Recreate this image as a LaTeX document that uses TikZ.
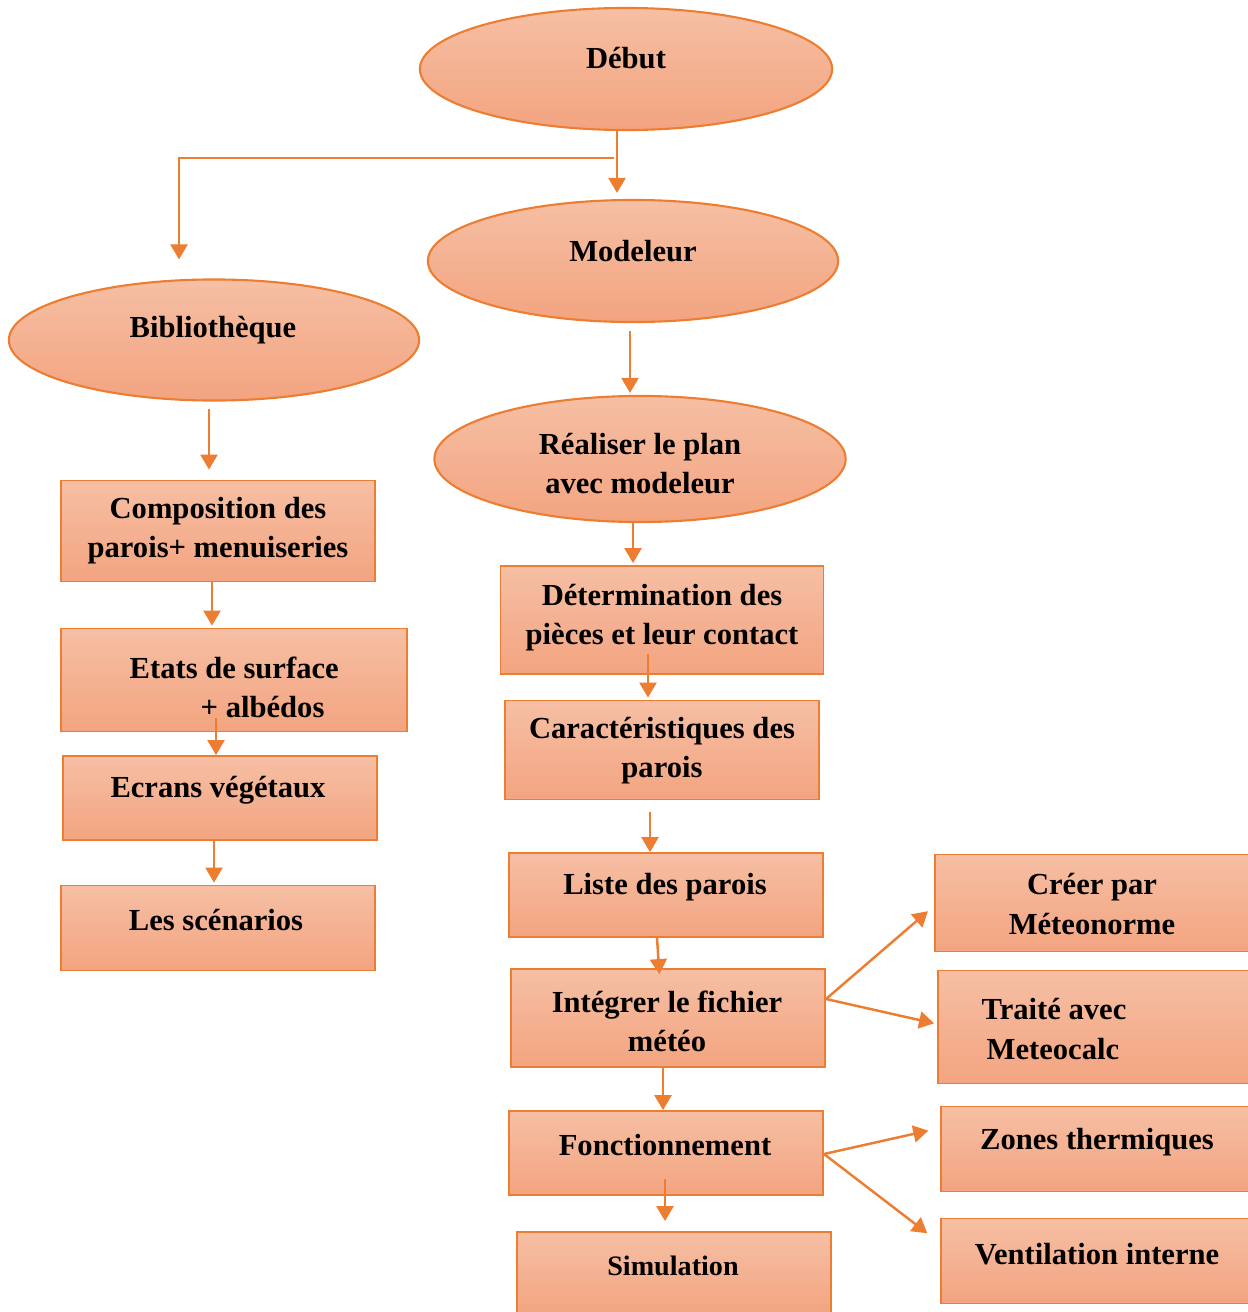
\documentclass[tikz,border=0pt]{standalone}
\usepackage{fontspec}
\setmainfont{Liberation Serif}
\usepackage{xcolor}
\usepackage{tikz}
\usetikzlibrary{shapes.geometric}
\usetikzlibrary{arrows.meta}
\definecolor{OrangeTrait}{HTML}{ED7D31}
\definecolor{OrangeHaut}{HTML}{F6BFA4}
\definecolor{OrangeBas}{HTML}{F3A480}

\tikzset{
  bloc/.style = {rectangle, draw = OrangeTrait, line width = .5pt, top color = OrangeHaut, bottom color = OrangeBas, inner sep = 0pt},
  bulle/.style = {ellipse, draw = OrangeTrait, line width = .6pt, top color = OrangeHaut, bottom color = OrangeBas, inner sep = 0pt},
  texte/.style = {align = center, inner sep = 0pt, font = \bfseries\fontsize{8.7}{11.1}\selectfont},
  fleche/.style = {draw = OrangeTrait, line width = .7pt, -{Triangle[length=1.5mm, width=1.7mm]}}
}

\begin{document}
\begin{tikzpicture}[x = .01cm, y = -.01cm]
  \useasboundingbox (0,0) rectangle (1247,1312);

  % ellipses
  \node[bulle, minimum width = 4.12cm, minimum height = 1.22cm] (debut) at (626,69) {};
  \node[bulle, minimum width = 4.10cm, minimum height = 1.22cm] (modeleur) at (633,261) {};
  \node[bulle, minimum width = 4.10cm, minimum height = 1.21cm] (biblio) at (214,340) {};
  \node[bulle, minimum width = 4.11cm, minimum height = 1.26cm] (realiser) at (640,459) {};

  % left column
  \node[bloc, minimum width = 3.14cm, minimum height = 1.01cm] (compo) at (218,531) {};
  \node[bloc, minimum width = 3.46cm, minimum height = 1.03cm] (etats) at (234,680) {};
  \node[bloc, minimum width = 3.14cm, minimum height = .84cm] (ecrans) at (220,798) {};
  \node[bloc, minimum width = 3.14cm, minimum height = .85cm] (scen) at (218,928) {};

  % middle column
  \node[bloc, minimum width = 3.23cm, minimum height = 1.08cm] (determ) at (662,620) {};
  \node[bloc, minimum width = 3.14cm, minimum height = .99cm] (caract) at (662,750) {};
  \node[bloc, minimum width = 3.14cm, minimum height = .84cm] (liste) at (666,895) {};
  \node[bloc, minimum width = 3.14cm, minimum height = .98cm] (integrer) at (668,1018) {};
  \node[bloc, minimum width = 3.14cm, minimum height = .84cm] (fonct) at (666,1153) {};
  \node[bloc, minimum width = 3.14cm, minimum height = .84cm] (simul) at (674,1274) {};

  % right column
  \node[bloc, minimum width = 3.14cm, minimum height = .97cm] (creer) at (1092,903) {};
  \node[bloc, minimum width = 3.14cm, minimum height = 1.13cm] (traite) at (1095,1027) {};
  \node[bloc, minimum width = 3.14cm, minimum height = .85cm] (zones) at (1098,1149) {};
  \node[bloc, minimum width = 3.14cm, minimum height = .85cm] (ventil) at (1098,1261) {};

  % labels
  \node[texte] (debut-t) at (626,58) {Début};
  \node[texte] (modeleur-t) at (633,251) {Modeleur};
  \node[texte] (biblio-t) at (213,330) {Bibliothèque};
  \node[texte] (realiser-t) at (640,464) {Réaliser le plan\\avec modeleur};
  \node[texte] (compo-t) at (218,531) {Composition des\\parois+ menuiseries};
  \node[texte, align = left, anchor = west] (etats-t) at (129,687) {Etats de surface\\\hspace*{.71cm}+ albédos};
  \node[texte] (ecrans-t) at (218,790) {Ecrans végétaux};
  \node[texte] (scen-t) at (216,920) {Les scénarios};
  \node[texte] (determ-t) at (662,618) {Détermination des\\pièces et leur contact};
  \node[texte] (caract-t) at (662,751) {Caractéristiques des\\parois};
  \node[texte] (liste-t) at (665,887) {Liste des parois};
  \node[texte] (integrer-t) at (667,1021) {Intégrer le fichier\\météo};
  \node[texte] (fonct-t) at (665,1145) {Fonctionnement};
  \node[texte, font = \bfseries\fontsize{8}{10}\selectfont] (simul-t) at (673,1266) {Simulation};
  \node[texte] (creer-t) at (1092,904) {Créer par\\Méteonorme};
  \node[texte, align = left] (traite-t) at (1054,1029) {Traité avec\\\hspace*{.05cm}Meteocalc};
  \node[texte] (zones-t) at (1097,1142) {Zones thermiques};
  \node[texte] (ventil-t) at (1097,1254) {Ventilation interne};

  % arrows
  \coordinate (split) at (614,158);
  \draw[fleche, shorten >= .06cm] (debut.south -| 617,0) -- (modeleur.north -| 617,0);
  \draw[fleche, shorten >= .19cm] (split) -| (biblio.north -| 179,0);
  \draw[fleche, shorten <= .08cm, shorten >= .02cm] (modeleur.south -| 630,0) -- (realiser.north -| 630,0);
  \draw[fleche, shorten >= .02cm] (realiser.south -| 633,0) -- (determ.north -| 633,0);
  \draw[fleche, shorten <= -.21cm, shorten >= .02cm] (determ.south -| 648,0) -- (caract.north -| 648,0);
  \draw[fleche, shorten <= .12cm] (caract.south -| 650,0) -- (liste.north -| 650,0);
  \draw[fleche, shorten >= -.06cm] (liste.south -| 657,0) -- (integrer.north -| 659,0);
  \draw[fleche] (integrer.south -| 663,0) -- (fonct.north -| 663,0);
  \draw[fleche, shorten <= -.17cm, shorten >= .10cm] (fonct.south -| 665,0) -- (simul.north -| 665,0);

  \draw[fleche, shorten <= .07cm, shorten >= .10cm] (biblio.south -| 209,0) -- (compo.north -| 209,0);
  \draw[fleche, shorten >= .02cm] (compo.south -| 212,0) -- (etats.north -| 212,0);
  \draw[fleche, shorten <= -.14cm] (etats.south -| 216,0) -- (ecrans.north -| 216,0);
  \draw[fleche, shorten >= .02cm] (ecrans.south -| 214,0) -- (scen.north -| 214,0);

  \draw[fleche, shorten >= .08cm] (integrer.east |- 0,999) -- (creer.west |- 0,906);
  \draw[fleche, shorten >= .03cm] (integrer.east |- 0,999) -- (traite.west |- 0,1024);
  \draw[fleche, shorten >= .12cm] (fonct.east |- 0,1154) -- (zones.west |- 0,1128);
  \draw[fleche, shorten >= .16cm] (fonct.east |- 0,1154) -- (ventil.west |- 0,1243);
\end{tikzpicture}
\end{document}
